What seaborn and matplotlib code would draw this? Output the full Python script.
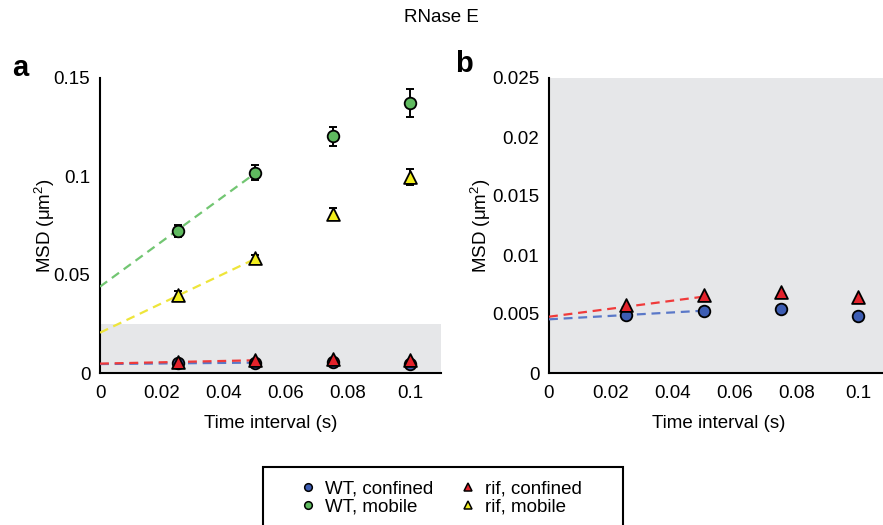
import numpy as np
import pandas as pd
import matplotlib
matplotlib.use("Agg")
import matplotlib.pyplot as plt
from matplotlib.patches import Rectangle
from matplotlib.lines import Line2D
import seaborn as sns

# ---- data -------------------------------------------------------------
lags = [0.025, 0.05, 0.075, 0.1]

wt_mobile = [0.0724, 0.1019, 0.1203, 0.1374]
wt_mobile_err = [0.003, 0.004, 0.005, 0.007]
rif_mobile = [0.0397, 0.0583, 0.0807, 0.0998]
rif_mobile_err = [0.002, 0.0015, 0.003, 0.004]
wt_confined = [0.00492, 0.00528, 0.00545, 0.00480]
rif_confined = [0.00576, 0.0066, 0.0069, 0.0064]

# linear fits over the first two lags: intercept, slope
fit_groups = ["WT, mobile", "rif, mobile", "WT, confined", "rif, confined"]
fit_intercept = [0.0439, 0.0205, 0.00455, 0.00477]
fit_slope = [1.152, 0.750, 0.0146, 0.0340]
fit_range = [0.0, 0.05]

x_ticks = [0, 0.02, 0.04, 0.06, 0.08, 0.1]
x_tick_labels = ["0", "0.02", "0.04", "0.06", "0.08", "0.1"]
ya_ticks = [0, 0.05, 0.1, 0.15]
ya_tick_labels = ["0", "0.05", "0.1", "0.15"]
yb_ticks = [0, 0.005, 0.01, 0.015, 0.02, 0.025]
yb_tick_labels = ["0", "0.005", "0.01", "0.015", "0.02", "0.025"]

# ---- styles -----------------------------------------------------------
fill = {"WT, confined": "#3d5db3", "WT, mobile": "#5fba5f",
        "rif, confined": "#e3222b", "rif, mobile": "#f2ee1e"}
line_col = {"WT, confined": "#5a78c8", "WT, mobile": "#72c672",
            "rif, confined": "#f03a3a", "rif, mobile": "#eee53a"}
marker = {"WT, confined": "o", "WT, mobile": "o",
          "rif, confined": "^", "rif, mobile": "^"}
grey = "#e6e7e9"

sns.set_theme(style="white")
plt.rcParams["font.family"] = ["Liberation Sans", "DejaVu Sans"]
plt.rcParams["mathtext.fontset"] = "custom"
plt.rcParams["mathtext.rm"] = "Liberation Sans"
plt.rcParams["mathtext.it"] = "Liberation Sans"
plt.rcParams["text.color"] = "black"
plt.rcParams["axes.labelcolor"] = "black"

FS = 13.5

series = {
    "WT, mobile": (wt_mobile, wt_mobile_err),
    "rif, mobile": (rif_mobile, rif_mobile_err),
    "WT, confined": (wt_confined, None),
    "rif, confined": (rif_confined, None),
}

rows = []
for name, (vals, _) in series.items():
    for t, v in zip(lags, vals):
        rows.append({"lag": t, "msd": v, "group": name})
df = pd.DataFrame(rows)

fit_rows = []
for g, b0, b1 in zip(fit_groups, fit_intercept, fit_slope):
    for t in fit_range:
        fit_rows.append({"lag": t, "msd": b0 + b1 * t, "group": g})
fit_df = pd.DataFrame(fit_rows)

W, H = 883, 525
fig = plt.figure(figsize=(W / 100, H / 100), dpi=100)


def px_axes(left, top, right, bottom):
    return fig.add_axes([left / W, 1 - bottom / H, (right - left) / W, (bottom - top) / H])


ax_a = px_axes(100, 78, 441, 373)
ax_b = px_axes(549, 78, 889, 373)


def draw(ax, groups, with_err):
    for g in groups:
        sub = fit_df[fit_df.group == g]
        sns.lineplot(data=sub, x="lag", y="msd", ax=ax, color=line_col[g],
                     linestyle=(0, (4, 2.6)), linewidth=1.6, zorder=3,
                     legend=False)
    for g in groups:
        vals, err = series[g]
        if with_err and err is not None:
            ax.errorbar(lags, vals, yerr=err, fmt="none", ecolor="black",
                        elinewidth=1.4, capsize=3, capthick=1.4, zorder=4)
        sub = df[df.group == g]
        sns.scatterplot(data=sub, x="lag", y="msd", ax=ax, color=fill[g],
                        marker=marker[g], s=70 if marker[g] == "o" else 85,
                        edgecolor="black", linewidth=1.3, zorder=5,
                        legend=False)


def style(ax, yticks, ylabels, ymax, ylabelpad):
    ax.set_xlim(0, 0.11)
    ax.set_ylim(0, ymax)
    ax.set_xticks(x_ticks)
    ax.set_xticklabels(x_tick_labels)
    ax.set_yticks(yticks)
    ax.set_yticklabels(ylabels)
    for s in ("top", "right"):
        ax.spines[s].set_visible(False)
    for s in ("left", "bottom"):
        ax.spines[s].set_color("black")
        ax.spines[s].set_linewidth(1.5)
    ax.tick_params(axis="both", direction="in", length=4, width=1.3,
                   labelsize=FS, colors="black")
    ax.tick_params(axis="x", pad=9)
    ax.tick_params(axis="y", pad=7)
    ax.set_xlabel("Time interval (s)", fontsize=FS, labelpad=9)
    ax.set_ylabel("MSD (μm$^2$)", fontsize=FS, labelpad=ylabelpad)


# panel a
ax_a.set_facecolor("white")
ax_a.add_patch(Rectangle((0, 0), 0.11, 0.025, facecolor=grey, edgecolor="none", zorder=0))
draw(ax_a, ["WT, mobile", "rif, mobile", "WT, confined", "rif, confined"], True)
style(ax_a, ya_ticks, ya_tick_labels, 0.15, -2.5)

# panel b
ax_b.set_facecolor(grey)
draw(ax_b, ["WT, confined", "rif, confined"], False)
style(ax_b, yb_ticks, yb_tick_labels, 0.025, -1.0)

fig.text(20 / W, 1 - 68 / H, "a", fontsize=21, fontweight="bold", ha="center", va="center")
fig.text(464 / W, 1 - 64 / H, "b", fontsize=21, fontweight="bold", ha="center", va="center")
fig.text(441 / W, 1 - 18 / H, "RNase E", fontsize=FS, ha="center", va="center")

# legend
order = ["WT, confined", "WT, mobile", "rif, confined", "rif, mobile"]
handles = [Line2D([], [], linestyle="none", marker=marker[g], markersize=5.5,
                  markerfacecolor=fill[g], markeredgecolor="black",
                  markeredgewidth=1.1) for g in order]
fig.patches.append(Rectangle((263 / W, 1 - 540 / H), 360 / W, 73 / H,
                             transform=fig.transFigure, facecolor="white",
                             edgecolor="black", linewidth=1.5, zorder=0))
fig.legend(handles, order, loc="upper left", bbox_to_anchor=(299 / W, 1 - 480 / H),
           ncol=2, frameon=False, fontsize=FS, handlelength=1.0,
           handletextpad=0.4, columnspacing=1.35, labelspacing=0.05,
           borderpad=0, borderaxespad=0)

fig.savefig("out.png", dpi=100)
